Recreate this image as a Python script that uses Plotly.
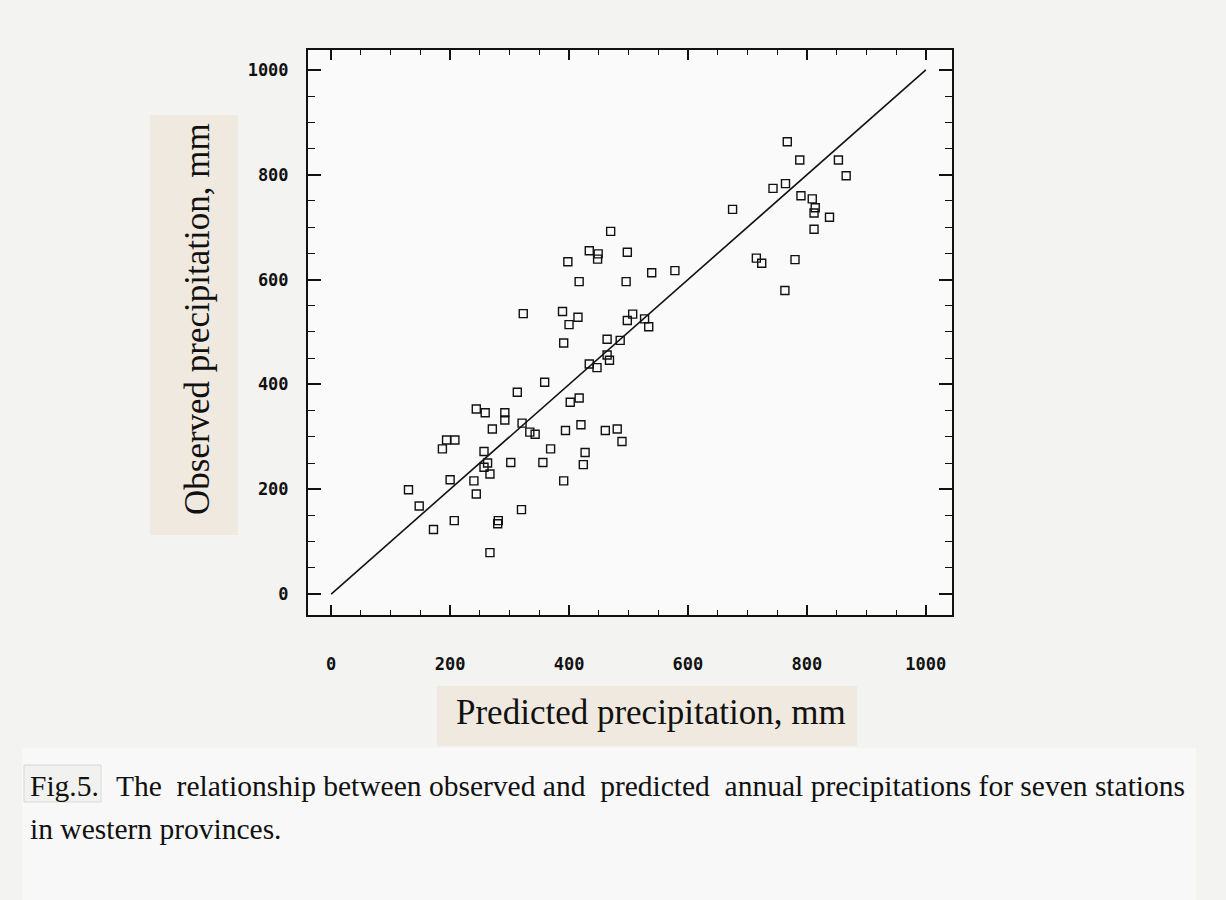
import plotly.graph_objects as go

# ---- data ----
predicted = [359, 313, 417, 402, 244, 259, 292, 292, 321, 420, 271, 334, 343, 394, 461, 481,
             489, 194, 208, 187, 369, 427, 257, 263, 257, 302, 356, 424, 267, 200, 240, 391,
             130, 244, 148, 320, 207, 281, 280, 172, 267,
             470, 434, 449, 448, 498, 398, 417, 496, 539, 578, 323, 389, 415, 400, 391, 507,
             498, 527, 534, 464, 486, 464, 468, 434, 447,
             767, 788, 853, 866, 743, 764, 790, 809, 814, 812, 838, 812, 675, 715, 724, 780, 763]
observed = [404, 385, 374, 366, 353, 346, 346, 332, 326, 323, 315, 309, 305, 312, 312, 315,
            291, 294, 294, 277, 277, 270, 272, 250, 242, 251, 251, 247, 229, 218, 216, 216,
            199, 191, 168, 161, 140, 140, 134, 123, 79,
            692, 655, 649, 639, 652, 634, 596, 596, 613, 617, 535, 539, 528, 514, 479, 534,
            522, 525, 510, 486, 484, 456, 446, 439, 432,
            863, 828, 828, 798, 774, 783, 760, 754, 737, 727, 719, 696, 734, 641, 631, 638, 579]
line_x = [0, 1000]
line_y = [0, 1000]
tick_vals = [0, 200, 400, 600, 800, 1000]
tick_text = ["0", "200", "400", "600", "800", "1000"]

x_title = "Predicted precipitation, mm"
y_title = "Observed precipitation, mm"
caption_fig = "Fig.5."
caption_line1 = "The  relationship between observed and  predicted  annual precipitations for seven stations"
caption_line2 = "in western provinces."

# ---- layout helpers (pixel -> paper) ----
W, H = 1226, 900
L, R, T, B = 308, 952, 50, 615


def px(x):
    return (x - L) / (R - L)


def py(y):
    return (B - y) / (B - T)


fig = go.Figure()
fig.add_trace(go.Scatter(x=line_x, y=line_y, mode="lines",
                         line=dict(color="#111111", width=1.6), hoverinfo="skip"))
fig.add_trace(go.Scatter(x=predicted, y=observed, mode="markers",
                         marker=dict(symbol="square-open", size=8, color="#111111",
                                     line=dict(width=1.4, color="#111111"))))

tickfont = dict(family="DejaVu Sans Mono", size=17, color="#111111", weight="bold")
titlefont = dict(family="Liberation Serif", size=35, color="#111111")
capfont = dict(family="Liberation Serif", size=29.5, color="#111111")

fig.update_xaxes(range=[-39, 1044], tickvals=tick_vals, ticktext=tick_text,
                 ticks="inside", ticklen=10, tickwidth=1.6, tickcolor="#111111",
                 minor=dict(dtick=50, ticks="inside", ticklen=5, tickwidth=1.4, tickcolor="#111111"),
                 showline=True, linewidth=2, linecolor="#111111", mirror="allticks",
                 showgrid=False, zeroline=False, tickfont=tickfont, ticklabelstandoff=33)
fig.update_yaxes(range=[-40, 1038], tickvals=tick_vals, ticktext=tick_text,
                 ticks="inside", ticklen=13, tickwidth=1.6, tickcolor="#111111",
                 minor=dict(dtick=50, ticks="inside", ticklen=7, tickwidth=1.4, tickcolor="#111111"),
                 showline=True, linewidth=2, linecolor="#111111", mirror="allticks",
                 showgrid=False, zeroline=False, tickfont=tickfont, ticklabelstandoff=14)

shapes = [
    # beige pasted label strips
    dict(type="rect", xref="paper", yref="paper", x0=px(150), x1=px(238), y0=py(535), y1=py(115),
         fillcolor="#efe9df", line=dict(width=0), layer="below"),
    dict(type="rect", xref="paper", yref="paper", x0=px(437), x1=px(857), y0=py(746), y1=py(686),
         fillcolor="#efe9df", line=dict(width=0), layer="below"),
    # caption band
    dict(type="rect", xref="paper", yref="paper", x0=px(22), x1=px(1196), y0=py(900), y1=py(748),
         fillcolor="#f8f8f8", line=dict(width=0), layer="below"),
    dict(type="rect", xref="paper", yref="paper", x0=px(24), x1=px(101), y0=py(802), y1=py(765),
         fillcolor="#f1f1ef", line=dict(color="#d8d8d8", width=1), layer="below"),
]

annotations = [
    dict(text=x_title, xref="paper", yref="paper", x=px(651), y=py(712), xanchor="center",
         yanchor="middle", showarrow=False, font=titlefont),
    dict(text=y_title, xref="paper", yref="paper", x=px(197), y=py(319), xanchor="center",
         yanchor="middle", showarrow=False, textangle=-90, font=titlefont),
    dict(text=caption_fig, xref="paper", yref="paper", x=px(28), y=py(786), xanchor="left",
         yanchor="middle", showarrow=False, font=capfont),
    dict(text=caption_line1.replace("  ", "\u00a0 "), xref="paper", yref="paper", x=px(114), y=py(786),
         xanchor="left", yanchor="middle", showarrow=False, font=capfont),
    dict(text=caption_line2, xref="paper", yref="paper", x=px(28), y=py(829), xanchor="left",
         yanchor="middle", showarrow=False, font=capfont),
]

fig.update_layout(width=W, height=H, margin=dict(l=L, r=W - R, t=T, b=H - B),
                  paper_bgcolor="#f3f3f2", plot_bgcolor="#fafafa",
                  showlegend=False, shapes=shapes, annotations=annotations)

fig.write_html("out.html")
